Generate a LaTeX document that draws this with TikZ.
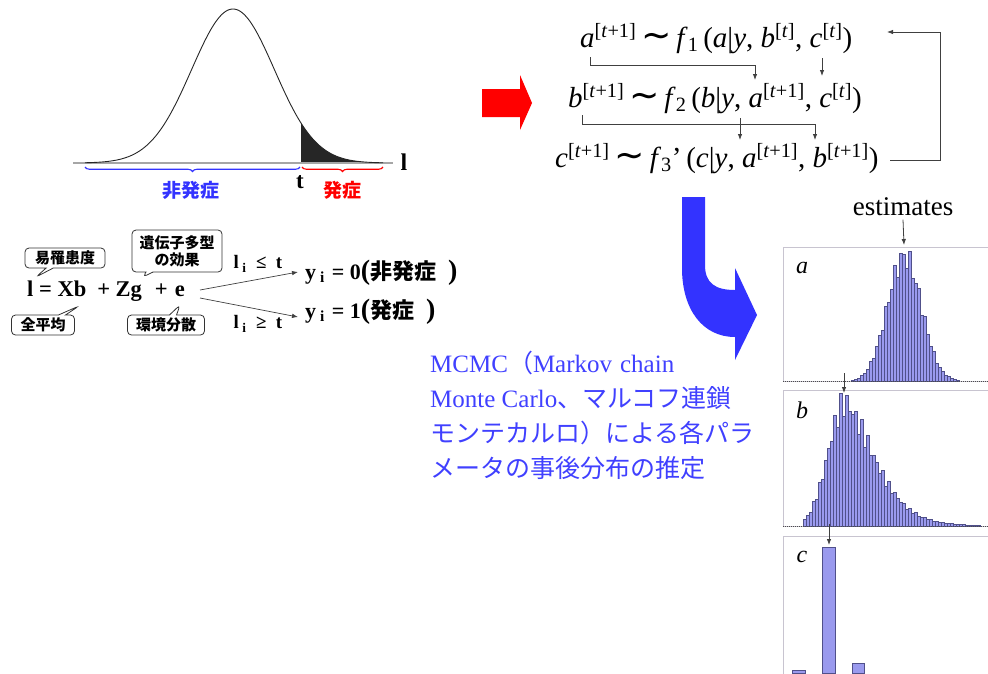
\documentclass[tikz,border=0pt]{standalone}
\usepackage{fontspec}
\setmainfont{Liberation Serif}
\newfontfamily\jp{Noto Sans CJK JP}
\newfontfamily\djsans{DejaVu Sans}
\usetikzlibrary{decorations.pathreplacing,shapes.callouts,arrows.meta}
\definecolor{myblue}{HTML}{3333FF}
\definecolor{txtblue}{HTML}{4040FF}
\definecolor{barfill}{HTML}{9A9AEE}
\definecolor{bardraw}{HTML}{50508A}
\definecolor{boxgray}{HTML}{C8C4D0}
\newcommand{\sqbr}[1]{\textsuperscript{[#1]}}
\newcommand{\tild}{\,{\djsans\scalebox{1.25}{∼}}\,}
\newcommand{\iti}[1]{\textit{#1}}
\tikzset{
  arr/.style={-{Latex[length=6pt,width=4.5pt]}, line width=0.8pt, draw=black!75},
  callbox/.style={rectangle callout, draw=black!80, line width=0.8pt, rounded corners=4pt, fill=white, inner sep=2pt, font=\fontsize{15}{17}\selectfont\jp\bfseries, align=center},
  bar/.style={fill=barfill, draw=bardraw, line width=0.35pt},
  panel/.style={draw=boxgray, line width=1pt},
  gib/.style={anchor=base west, inner sep=0pt, font=\fontsize{29}{29}\selectfont},
}
\begin{document}
\begin{tikzpicture}[x=1pt,y=-1pt]
\useasboundingbox (0,0) rectangle (988,673);
% ---------- bell curve ----------
\fill[black!85] (301,163) -- plot[domain=301:383,samples=40] (\x,{163-154*exp(-(((\x-233)/41.4)^2)/2)}) -- (383,163) -- cycle;
\draw[black!35, line width=1.5pt] (73,163) -- (393,163);
\draw[black!85, line width=0.9pt] plot[domain=85:383,samples=160] (\x,{163-154*exp(-(((\x-233)/41.4)^2)/2)});
\node[font=\fontsize{24}{24}\selectfont\bfseries] (lax) at (404,162) {l};
\draw[myblue, line width=1.1pt, decorate, decoration={brace, mirror, amplitude=4.5pt}] (85,167) -- (300,167);
\draw[red, line width=1.1pt, decorate, decoration={brace, mirror, amplitude=4.5pt}] (302,167) -- (383,167);
\node[font=\fontsize{19}{19}\selectfont\jp\bfseries, text=myblue] (nonon) at (191,190) {非発症};
\node[font=\fontsize{19}{19}\selectfont\jp\bfseries, text=red] (onset) at (342,190) {発症};
\node[font=\fontsize{23}{23}\selectfont\bfseries] (tl) at (300,182) {t};
% ---------- liability model ----------
\node[anchor=base west, inner sep=0pt, font=\fontsize{22.5}{22.5}\selectfont\bfseries] (eq) at (27,296) {l = Xb\hspace{11pt}+ Zg\hspace{13pt}+\hspace{7pt}e};
\node[callbox, minimum width=80pt, minimum height=20pt, callout absolute pointer={(36,277)}] (c1) at (65,258) {易罹患度};
\node[callbox, minimum width=90pt, minimum height=42pt, callout absolute pointer={(143,277)}] (c2) at (177,251) {遺伝子多型\\の効果};
\node[callbox, minimum width=63pt, minimum height=20pt, callout absolute pointer={(79,306)}] (c3) at (43,325) {全平均};
\node[callbox, minimum width=77pt, minimum height=20pt, callout absolute pointer={(180,305)}] (c4) at (166,325) {環境分散};
\node[anchor=base west, inner sep=0pt, font=\fontsize{22}{22}\selectfont\bfseries] (y0) at (305,279) {y\textsubscript{ i}\hspace{7pt}= 0{\fontsize{28}{28}\selectfont(}{\jp 非発症}\hspace{12pt}{\fontsize{28}{28}\selectfont)}};
\node[anchor=base west, inner sep=0pt, font=\fontsize{22}{22}\selectfont\bfseries] (y1) at (305,318) {y\textsubscript{ i}\hspace{7pt}= 1{\fontsize{28}{28}\selectfont(}{\jp 発症}\hspace{12pt}{\fontsize{28}{28}\selectfont)}};
\coordinate (e0) at (200,290);
\coordinate (e1) at (200,298);
\draw[arr, line width=0.7pt] (e0) -- (298,272);
\draw[arr, line width=0.7pt] (e1) -- (298,317);
\node[font=\fontsize{19}{19}\selectfont\bfseries] (le) at (258,264) {l\textsubscript{ i} \ ≤ \ t};
\node[font=\fontsize{19}{19}\selectfont\bfseries] (ge) at (258,324) {l\textsubscript{ i} \ ≥ \ t};
% ---------- red arrow ----------
\fill[red] (482,89) -- (520,89) -- (520,75) -- (532,103) -- (520,130) -- (520,117) -- (482,117) -- cycle;
% ---------- Gibbs sampler ----------
\node[gib] (g1) at (580,47) {\iti{a}\sqbr{\iti{t}+1}\tild\iti{f}\textsubscript{1}\,(\iti{a}|\iti{y}, \iti{b}\sqbr{\iti{t}}, \iti{c}\sqbr{\iti{t}})};
\node[gib] (g2) at (568,107) {\iti{b}\sqbr{\iti{t}+1}\tild\iti{f}\textsubscript{2}\,(\iti{b}|\iti{y}, \iti{a}\sqbr{\iti{t}+1}, \iti{c}\sqbr{\iti{t}})};
\node[gib] (g3) at (555,167) {\iti{c}\sqbr{\iti{t}+1}\tild\iti{f}\textsubscript{3}’\,(\iti{c}|\iti{y}, \iti{a}\sqbr{\iti{t}+1}, \iti{b}\sqbr{\iti{t}+1})};
\draw[arr] (590,57) -- (590,65) -- (755,65) -- (755,80);
\draw[arr] (822,58) -- (822,76);
\draw[arr] (582,115) -- (582,124) -- (815,124) -- (815,140);
\draw[arr] (740,118) -- (740,140);
\coordinate (lp1) at (890,160);
\coordinate (lp2) at (887,32);
\draw[arr] (lp1) -- (940,160) -- (940,32) -- (lp2);
% ---------- blue curved arrow ----------
\fill[myblue] (682,197) -- (705,197) -- (705,265) .. controls (705,283) and (715,290) .. (735,290) -- (735,268) -- (757,315) -- (735,360) -- (735,337) .. controls (703,337) and (682,310) .. (682,268) -- cycle;
% ---------- MCMC text ----------
\node[anchor=north west, inner sep=0pt, align=left, text=txtblue, font=\fontsize{25}{35}\selectfont] (mcmc) at (430,351) {MCMC{\jp（}Markov\hspace{8pt}chain\\Monte Carlo{\jp 、マルコフ連鎖}\\{\jp モンテカルロ）による各パラ}\\{\jp メータの事後分布の推定}};
% ---------- histograms ----------
\draw[panel] (783,247) rectangle (995,381);
\draw[panel] (783,390) rectangle (995,526);
\draw[panel] (783,536) rectangle (995,680);
\node[font=\fontsize{27}{27}\selectfont] (est) at (903,207) {estimates};
\node[font=\fontsize{24}{24}\selectfont\itshape] (la) at (802,268) {a};
\node[font=\fontsize{24}{24}\selectfont\itshape] (lb) at (802,410) {b};
\node[font=\fontsize{24}{24}\selectfont\itshape] (lc) at (802,557) {c};
\foreach \i in {0,...,35}{
  \pgfmathsetmacro\xx{851+3*\i}
  \pgfmathsetmacro\hh{124*exp(-(((\xx+1.5-904)/17)^2)/2)*(1+0.1*sin(\i*137))}
  \filldraw[bar] (\xx,381) rectangle (\xx+3,381-\hh);
}
\foreach \i in {0,...,58}{
  \pgfmathsetmacro\xx{803+3*\i}
  \pgfmathsetmacro\d{\xx+1.5-845}
  \pgfmathsetmacro\ad{abs(\d)}
  \pgfmathsetmacro\hl{exp(-((\ad/17)^2)/2)}
  \pgfmathsetmacro\hr{0.9*exp(-pow(\ad/40,1.6))+0.1*exp(-\ad/50)}
  \pgfmathsetmacro\hh{123*((\d<0) ? \hl : \hr)*(1+0.12*sin(\i*157))}
  \filldraw[bar] (\xx,526) rectangle (\xx+3,526-\hh);
}
\draw[black!70, line width=1pt, dash pattern=on 1pt off 1pt] (783,381) -- (988,381);
\draw[black!70, line width=1pt, dash pattern=on 1pt off 1pt] (783,526) -- (988,526);
\filldraw[bar, line width=0.6pt] (822,547) rectangle (835,673);
\filldraw[bar, line width=0.6pt] (852,663) rectangle (864,673);
\filldraw[bar, line width=0.6pt] (792,670) rectangle (805,673);
\draw[arr] (est.south) -- (904,245);
\coordinate (pb) at (844,393);
\draw[arr] (844,373) -- (pb);
\coordinate (pc) at (829,545);
\draw[arr] (829,524) -- (pc);
\end{tikzpicture}
\end{document}
